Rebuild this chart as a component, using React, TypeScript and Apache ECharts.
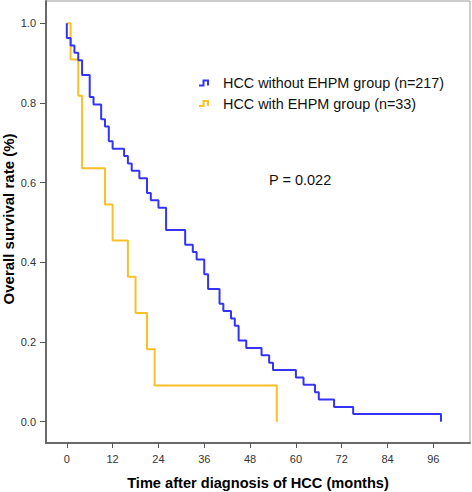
import React, { useEffect, useRef } from "react";
import * as echarts from "echarts";

// Kaplan-Meier step data
const withoutTimes = [0, 1, 2, 3, 4, 6, 7, 9, 10, 11, 12, 15, 16, 17, 19, 21, 22, 24, 26, 31, 33, 34, 36, 37, 40, 41, 43, 44, 45, 47, 51, 53, 54, 60, 62, 65, 66, 70, 75, 98];
const withoutSurv = [0.963, 0.944, 0.926, 0.907, 0.870, 0.815, 0.796, 0.759, 0.741, 0.704, 0.685, 0.667, 0.648, 0.630, 0.611, 0.574, 0.556, 0.537, 0.481, 0.444, 0.426, 0.407, 0.370, 0.333, 0.296, 0.278, 0.259, 0.241, 0.204, 0.185, 0.167, 0.148, 0.130, 0.111, 0.093, 0.074, 0.056, 0.037, 0.019, 0.0];
const withTimes = [1, 3, 4, 10, 12, 16, 18, 21, 23, 55];
const withSurv = [0.909, 0.818, 0.636, 0.545, 0.455, 0.364, 0.273, 0.182, 0.091, 0.0];

const xTicks = [0, 12, 24, 36, 48, 60, 72, 84, 96];
const yTicks = [0, 0.2, 0.4, 0.6, 0.8, 1.0];

const seriesNames = ["HCC without EHPM group (n=217)", "HCC with EHPM group (n=33)"];
const colors = ["#3434f8", "#fcbf26"];
const pText = "P = 0.022";
const yTitle = "Overall survival rate (%)";
const xTitle = "Time after diagnosis of HCC (months)";

const FONT = "'Liberation Sans', Arial, sans-serif";

export default function App() {
  const ref = useRef<HTMLDivElement>(null);
  useEffect(() => {
    if (!ref.current) return;
    const chart = echarts.init(ref.current, undefined, { renderer: "svg" });
    const blue = [[0, 1], ...withoutTimes.map((t, i) => [t, withoutSurv[i]])];
    const yellow = [[0, 1], ...withTimes.map((t, i) => [t, withSurv[i]])];

    const legendItem = (i: number, y: number) => ({
      type: "group",
      children: [
        {
          type: "polyline",
          shape: { points: [[199, y + 2.5], [203.5, y + 2.5], [203.5, y - 2.5], [208, y - 2.5], [208, y + 2.5]] },
          style: { stroke: colors[i], lineWidth: 2, fill: null },
        },
        {
          type: "text",
          x: 223,
          y: y,
          style: { text: seriesNames[i], font: `14.4px ${FONT}`, fill: "#111", verticalAlign: "middle", align: "left" },
        },
      ],
    });

    chart.setOption({
      animation: false,
      backgroundColor: "#fff",
      grid: { left: 46, right: 2, top: 1, bottom: 49, show: true, borderColor: "#9a9a9a", borderWidth: 1, containLabel: false, outerBoundsMode: "none" },
      xAxis: {
        type: "value",
        min: -5.45,
        max: 105.6,
        name: xTitle,
        nameLocation: "middle",
        nameGap: 32,
        nameTextStyle: { fontFamily: FONT, fontWeight: "bold", fontSize: 14.6, color: "#000" },
        axisLine: { show: true, onZero: false, lineStyle: { color: "#6a6a6a", width: 2 } },
        axisTick: { show: true, length: 5, customValues: xTicks, lineStyle: { color: "#555" } },
        axisLabel: { customValues: xTicks, margin: 10, fontFamily: FONT, fontSize: 11, color: "#333", formatter: (v: number) => String(v) },
        splitLine: { show: false },
      },
      yAxis: {
        type: "value",
        min: -0.0535,
        max: 1.056,
        axisLine: { show: true, onZero: false, lineStyle: { color: "#6a6a6a", width: 2 } },
        axisTick: { show: true, length: 6, customValues: yTicks, lineStyle: { color: "#555" } },
        axisLabel: { customValues: yTicks, margin: 10, fontFamily: FONT, fontSize: 11, color: "#333", formatter: (v: number) => v.toFixed(1) },
        splitLine: { show: false },
      },
      series: [
        { type: "line", name: seriesNames[0], data: blue, step: "end", symbol: "none", lineStyle: { color: colors[0], width: 2 }, z: 3 },
        { type: "line", name: seriesNames[1], data: yellow, step: "end", symbol: "none", lineStyle: { color: colors[1], width: 2 }, z: 2 },
      ],
      graphic: [
        legendItem(0, 83),
        legendItem(1, 103.5),
        {
          type: "text",
          x: 269,
          y: 180,
          style: { text: pText, font: `14.5px ${FONT}`, fill: "#111", verticalAlign: "middle", align: "left" },
        },
        {
          type: "text",
          x: 8,
          y: 219,
          rotation: Math.PI / 2,
          style: { text: yTitle, font: `bold 15px ${FONT}`, fill: "#000", verticalAlign: "middle", align: "center" },
        },
      ],
    });
    return () => chart.dispose();
  }, []);
  return <div ref={ref} style={{ position: "absolute", left: 0, top: 0, width: 472, height: 492 }} />;
}
